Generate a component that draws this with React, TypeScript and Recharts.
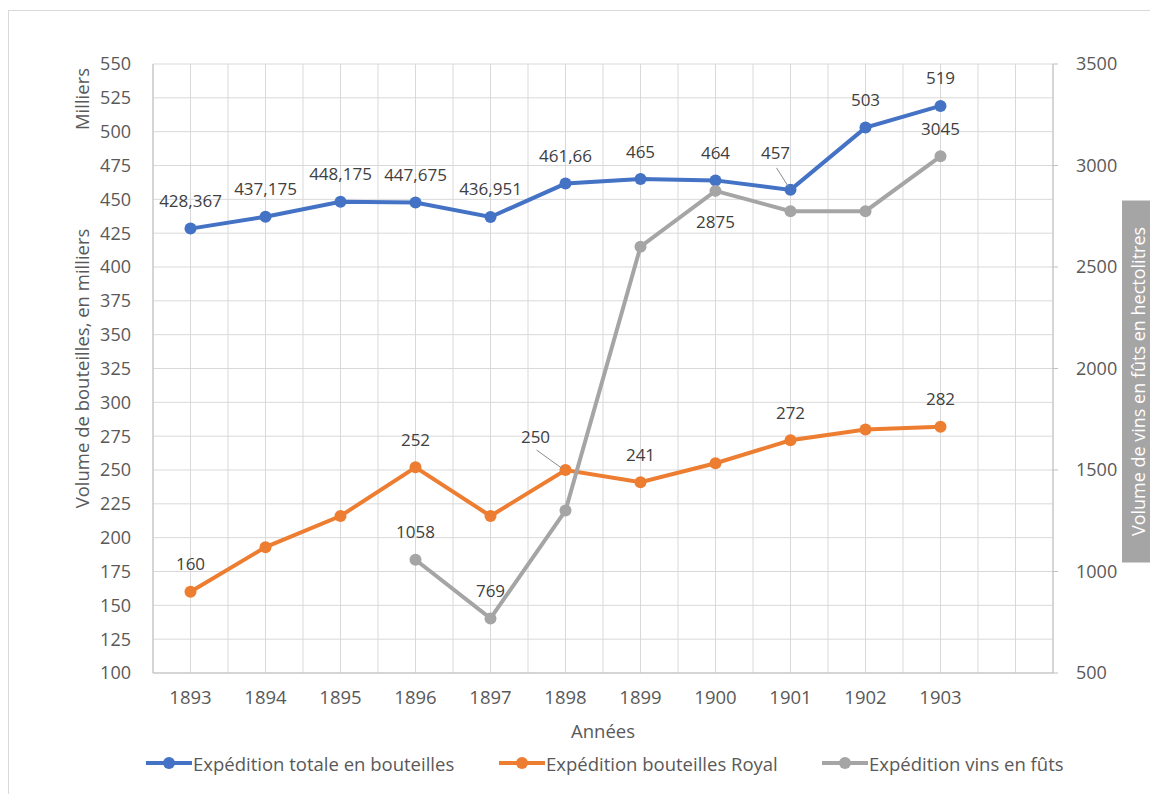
// Expéditions de bouteilles et de vins en fûts, 1893-1903
// Two Y axes: bottles (milliers) on the left, casks (hectolitres) on the right

import {
  ComposedChart,
  Line,
  XAxis,
  YAxis,
  CartesianGrid,
  LabelList,
  Label
} from 'recharts';

const years = ['1893', '1894', '1895', '1896', '1897', '1898', '1899', '1900', '1901', '1902', '1903', ''];

const totalBottles = [428.367, 437.175, 448.175, 447.675, 436.951, 461.66, 465, 464, 457, 503, 519];
const royalBottles = [160, 193, 216, 252, 216, 250, 241, 255, 272, 280, 282];
const caskWine = [null, null, null, 1058, 769, 1300, 2600, 2875, 2775, 2775, 3045];

const totalLabels = ['428,367', '437,175', '448,175', '447,675', '436,951', '461,66', '465', '464', '457', '503', '519'];
const royalLabels = ['160', null, null, '252', null, '250', '241', null, '272', null, '282'];
const caskLabels = [null, null, null, '1058', '769', null, null, '2875', null, null, '3045'];

const leftTicks = [100, 125, 150, 175, 200, 225, 250, 275, 300, 325, 350, 375, 400, 425, 450, 475, 500, 525, 550];
const rightTicks = [500, 1000, 1500, 2000, 2500, 3000, 3500];

const BLUE = '#4472C4';
const ORANGE = '#ED7D31';
const GRAY = '#A5A5A5';
const TEXT = '#595959';
const FONT = '"Open Sans", sans-serif';

const data = years.map((year, i) => ({
  year,
  total: totalBottles[i] ?? null,
  royal: royalBottles[i] ?? null,
  cask: caskWine[i] ?? null
}));

type Placement = { dx: number; dy: number; leader?: [number, number, number, number] };

// label placement tweaks (default: centered above the point)
const totalPlacement: Record<number, Placement> = {
  8: { dx: -15, dy: -37, leader: [-14, -22, -2, -3] }
};
const royalPlacement: Record<number, Placement> = {
  5: { dx: -30, dy: -34, leader: [-29, -20, -4, -2] }
};
const caskPlacement: Record<number, Placement> = {
  7: { dx: 0, dy: 31 }
};

function makeLabel(labels: (string | null)[], placement: Record<number, Placement>) {
  return (props: any) => {
    const { x, y, index } = props;
    const text = labels[index];
    if (!text || x == null || y == null) return null;
    const p = placement[index] ?? { dx: 0, dy: -28 };
    return (
      <g>
        {p.leader && (
          <line
            x1={x + p.leader[0]}
            y1={y + p.leader[1]}
            x2={x + p.leader[2]}
            y2={y + p.leader[3]}
            stroke="#8c8c8c"
            strokeWidth={1}
          />
        )}
        <text
          x={x + p.dx}
          y={y + p.dy}
          textAnchor="middle"
          dominantBaseline="central"
          fill="#404040"
          fontSize={17}
          fontFamily={FONT}
        >
          {text}
        </text>
      </g>
    );
  };
}

const LEGEND = [
  { name: 'Expédition totale en bouteilles', color: BLUE, left: 137 },
  { name: 'Expédition bouteilles Royal', color: ORANGE, left: 490 },
  { name: 'Expédition vins en fûts', color: GRAY, left: 813 }
];

export default function App() {
  return (
    <div
      style={{
        position: 'relative',
        width: 1142,
        height: 784,
        marginTop: 2,
        borderTop: '1px solid #d9d9d9',
        borderLeft: '1px solid #d9d9d9',
        boxSizing: 'border-box',
        fontFamily: FONT,
        background: '#fff'
      }}
    >
      <ComposedChart
        width={1142}
        height={782}
        data={data}
        margin={{ top: 53, right: 28, left: 64, bottom: 90 }}
      >
        <CartesianGrid
          yAxisId="left"
          stroke="#d9d9d9"
          strokeWidth={1}
          verticalCoordinatesGenerator={({ offset }: any) =>
            Array.from({ length: 25 }, (_, i) => offset.left + (i * offset.width) / 24)
          }
        />
        <XAxis
          dataKey="year"
          scale="band"
          height={30}
          axisLine={{ stroke: '#bfbfbf' }}
          tickLine={false}
          tickSize={0}
          tickMargin={18}
          interval={0}
          tick={{ fill: TEXT, fontSize: 18.5 }}
        >
          <Label
            value="Années"
            position="bottom"
            offset={22}
            style={{ fill: TEXT, fontSize: 18.5 }}
          />
        </XAxis>
        <YAxis
          yAxisId="left"
          width={80}
          domain={[100, 550]}
          ticks={leftTicks}
          interval={0}
          axisLine={{ stroke: '#bfbfbf' }}
          tickLine={false}
          tickSize={0}
          tickMargin={22}
          tick={{ fill: TEXT, fontSize: 18 }}
        >
          <Label
            content={({ viewBox }: any) => (
              <g>
                <text
                  transform={`translate(${viewBox.x + 8}, ${viewBox.y + viewBox.height / 2}) rotate(-90)`}
                  textAnchor="middle"
                  dominantBaseline="central"
                  fill={TEXT}
                  fontSize={18.5}
                  fontFamily={FONT}
                >
                  Volume de bouteilles, en milliers
                </text>
                <text
                  transform={`translate(${viewBox.x + 8}, ${viewBox.y + 35}) rotate(-90)`}
                  textAnchor="middle"
                  dominantBaseline="central"
                  fill={TEXT}
                  fontSize={18.5}
                  fontFamily={FONT}
                >
                  Milliers
                </text>
              </g>
            )}
          />
        </YAxis>
        <YAxis
          yAxisId="right"
          orientation="right"
          width={70}
          domain={[500, 3500]}
          ticks={rightTicks}
          interval={0}
          axisLine={{ stroke: '#bfbfbf' }}
          tickLine={{ stroke: '#bfbfbf' }}
          tickSize={5}
          tickMargin={18}
          tick={{ fill: TEXT, fontSize: 18, textAnchor: 'start' }}
        >
          <Label
            content={({ viewBox }: any) => {
              const cx = viewBox.x + 85;
              const cy = viewBox.y + viewBox.height / 2 + 13;
              return (
                <g>
                  <rect x={cx - 16} y={cy - 181} width={32} height={362} fill={GRAY} />
                  <text
                    transform={`translate(${cx}, ${cy}) rotate(-90)`}
                    textAnchor="middle"
                    dominantBaseline="central"
                    fill="#ffffff"
                    fontSize={18}
                    fontFamily={FONT}
                  >
                    Volume de vins en fûts en hectolitres
                  </text>
                </g>
              );
            }}
          />
        </YAxis>

        <Line
          yAxisId="left"
          dataKey="total"
          name="Expédition totale en bouteilles"
          stroke={BLUE}
          strokeWidth={4}
          dot={{ r: 6, fill: BLUE, stroke: BLUE, strokeWidth: 0 }}
          isAnimationActive={false}
        >
          <LabelList dataKey="total" content={makeLabel(totalLabels, totalPlacement)} />
        </Line>
        <Line
          yAxisId="left"
          dataKey="royal"
          name="Expédition bouteilles Royal"
          stroke={ORANGE}
          strokeWidth={4}
          dot={{ r: 6, fill: ORANGE, stroke: ORANGE, strokeWidth: 0 }}
          isAnimationActive={false}
        >
          <LabelList dataKey="royal" content={makeLabel(royalLabels, royalPlacement)} />
        </Line>
        <Line
          yAxisId="right"
          dataKey="cask"
          name="Expédition vins en fûts"
          stroke={GRAY}
          strokeWidth={4}
          dot={{ r: 6, fill: GRAY, stroke: GRAY, strokeWidth: 0 }}
          connectNulls={false}
          isAnimationActive={false}
        >
          <LabelList dataKey="cask" content={makeLabel(caskLabels, caskPlacement)} />
        </Line>
      </ComposedChart>

      {LEGEND.map(item => (
        <div
          key={item.name}
          style={{
            position: 'absolute',
            left: item.left,
            top: 740,
            display: 'flex',
            alignItems: 'center',
            height: 24,
            color: TEXT,
            fontSize: 18.5
          }}
        >
          <svg width={46} height={14} style={{ marginRight: 1 }}>
            <line x1={0} y1={7} x2={46} y2={7} stroke={item.color} strokeWidth={4} />
            <circle cx={23} cy={7} r={6} fill={item.color} />
          </svg>
          <span>{item.name}</span>
        </div>
      ))}
    </div>
  );
}
